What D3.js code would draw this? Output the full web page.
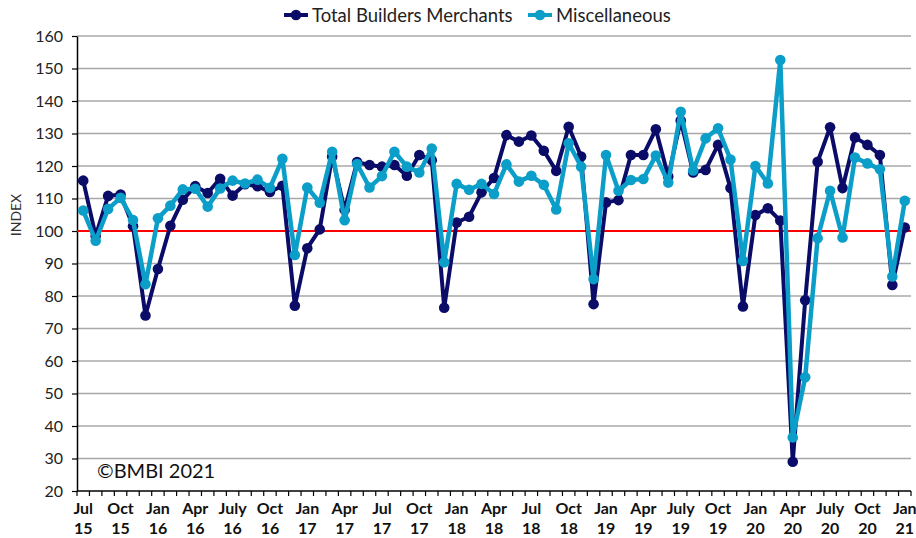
<!DOCTYPE html>
<html>
<head>
<meta charset="utf-8">
<script src="https://cdn.jsdelivr.net/npm/d3@7"></script>
<style>
  html, body { margin: 0; padding: 0; background: #fff; }
  svg { display: block; font-family: Lato, "Open Sans", sans-serif; }
</style>
</head>
<body>
<svg id="chart" width="916" height="538"></svg>
<script>
// Monthly index, Jul 2015 – Jan 2021
const months = [
  "Jul15","Aug15","Sep15","Oct15","Nov15","Dec15",
  "Jan16","Feb16","Mar16","Apr16","May16","Jun16","Jul16","Aug16","Sep16","Oct16","Nov16","Dec16",
  "Jan17","Feb17","Mar17","Apr17","May17","Jun17","Jul17","Aug17","Sep17","Oct17","Nov17","Dec17",
  "Jan18","Feb18","Mar18","Apr18","May18","Jun18","Jul18","Aug18","Sep18","Oct18","Nov18","Dec18",
  "Jan19","Feb19","Mar19","Apr19","May19","Jun19","Jul19","Aug19","Sep19","Oct19","Nov19","Dec19",
  "Jan20","Feb20","Mar20","Apr20","May20","Jun20","Jul20","Aug20","Sep20","Oct20","Nov20","Dec20",
  "Jan21"
];

const totalBuildersMerchants = [
  115.5, 98.5, 110.8, 111.2, 101.5, 74.0,
  88.3, 101.6, 109.6, 113.8, 111.7, 116.1, 110.9, 114.4, 113.8, 112.0, 113.9, 77.0,
  94.7, 100.5, 122.9, 106.5, 121.2, 120.3, 119.8, 120.3, 117.0, 123.4, 121.8, 76.4,
  102.6, 104.4, 111.9, 116.3, 129.5, 127.5, 129.4, 124.7, 118.5, 132.1, 122.9, 77.5,
  108.8, 109.5, 123.4, 123.4, 131.3, 116.8, 134.0, 118.0, 118.8, 126.5, 113.2, 76.8,
  104.9, 107.0, 103.2, 29.0, 78.7, 121.3, 131.9, 113.2, 128.8, 126.5, 123.4, 83.4,
  101.1
];

const miscellaneous = [
  106.3, 97.0, 106.8, 110.2, 103.4, 83.6,
  103.9, 107.8, 112.8, 113.0, 107.5, 113.1, 115.5, 114.6, 115.8, 113.3, 122.2, 92.6,
  113.4, 108.7, 124.4, 103.3, 120.6, 113.4, 116.9, 124.4, 119.8, 118.0, 125.4, 90.4,
  114.5, 112.7, 114.5, 111.4, 120.5, 115.2, 117.0, 114.2, 106.6, 127.0, 119.8, 85.2,
  123.4, 112.4, 115.7, 116.0, 123.2, 114.9, 136.7, 118.6, 128.5, 131.6, 122.0, 90.8,
  120.0, 114.6, 152.6, 36.5, 55.0, 97.8, 112.4, 98.0, 122.6, 120.8, 119.0, 86.0,
  109.3
];

// Quarterly axis labels: [month key, line 1, line 2]
const tickLabels = [
  ["Jul15","Jul","15"],["Oct15","Oct","15"],["Jan16","Jan","16"],["Apr16","Apr","16"],
  ["Jul16","July","16"],["Oct16","Oct","16"],["Jan17","Jan","17"],["Apr17","Apr","17"],
  ["Jul17","Jul","17"],["Oct17","Oct","17"],["Jan18","Jan","18"],["Apr18","Apr","18"],
  ["Jul18","Jul","18"],["Oct18","Oct","18"],["Jan19","Jan","19"],["Apr19","Apr","19"],
  ["Jul19","July","19"],["Oct19","Oct","19"],["Jan20","Jan","20"],["Apr20","Apr","20"],
  ["Jul20","July","20"],["Oct20","Oct","20"],["Jan21","Jan","21"]
];

const yTicks = d3.range(20, 161, 10);
const baseline = 100;

const seriesNames = ["Total Builders Merchants", "Miscellaneous"];
const seriesColors = ["#0b0b68", "#0b9ec8"];

const svg = d3.select("#chart");
const plotLeft = 77, plotRight = 911, plotTop = 36, plotBottom = 491;

const x = d3.scaleBand().domain(months).range([plotLeft, plotRight]).padding(0);
const xc = m => x(m) + x.bandwidth() / 2;
const y = d3.scaleLinear().domain([20, 160]).range([plotBottom, plotTop]);

// Horizontal gridlines
svg.append("g")
  .selectAll("line")
  .data(yTicks.filter(v => v > 20))
  .join("line")
  .attr("x1", plotLeft).attr("x2", plotRight)
  .attr("y1", d => y(d)).attr("y2", d => y(d))
  .attr("stroke", "#a8a8a8").attr("stroke-width", 1.3);

// Y axis
const yAxis = svg.append("g")
  .attr("transform", `translate(${plotLeft},0)`)
  .call(d3.axisLeft(y).tickValues(yTicks).tickSize(5).tickPadding(9).tickSizeOuter(0));
yAxis.select(".domain").attr("stroke", "#000").attr("stroke-width", 1.5);
yAxis.selectAll(".tick line").attr("stroke", "#000").attr("stroke-width", 1.2);
yAxis.selectAll(".tick text")
  .attr("font-family", "Lato, sans-serif").attr("font-size", 16).attr("fill", "#222");

// X axis with monthly tick marks at band edges
const xAxisG = svg.append("g").attr("transform", `translate(0,${plotBottom})`);
xAxisG.append("line")
  .attr("x1", plotLeft).attr("x2", plotRight).attr("y1", 0).attr("y2", 0)
  .attr("stroke", "#000").attr("stroke-width", 1.5);
xAxisG.selectAll("line.mtick")
  .data(months.concat(["__end"]))
  .join("line")
  .attr("class", "mtick")
  .attr("x1", (d, i) => plotLeft + i * x.step())
  .attr("x2", (d, i) => plotLeft + i * x.step())
  .attr("y1", 0).attr("y2", 5)
  .attr("stroke", "#000").attr("stroke-width", 1.2);

const lbl = xAxisG.selectAll("g.lbl")
  .data(tickLabels)
  .join("g")
  .attr("class", "lbl")
  .attr("transform", d => `translate(${xc(d[0])},0)`);
lbl.append("text").attr("y", 23).text(d => d[1]);
lbl.append("text").attr("y", 43).text(d => d[2]);
lbl.selectAll("text")
  .attr("text-anchor", "middle")
  .attr("font-family", "Lato, sans-serif")
  .attr("font-weight", "bold").attr("font-size", 16).attr("fill", "#111");

// Y axis title
svg.append("text")
  .attr("transform", `translate(21,215) rotate(-90)`)
  .attr("text-anchor", "middle")
  .attr("font-family", "Lato, sans-serif")
  .attr("font-size", 14).attr("fill", "#333")
  .text("INDEX");

// Reference line at 100
svg.append("line")
  .attr("x1", plotLeft).attr("x2", plotRight)
  .attr("y1", y(baseline)).attr("y2", y(baseline))
  .attr("stroke", "#ff0000").attr("stroke-width", 2.2);

// Series lines with markers
const seriesData = [totalBuildersMerchants, miscellaneous];
const line = d3.line().x((d, i) => xc(months[i])).y(d => y(d));
seriesData.forEach((vals, s) => {
  const g = svg.append("g");
  g.append("path")
    .datum(vals)
    .attr("d", line)
    .attr("fill", "none")
    .attr("stroke", seriesColors[s])
    .attr("stroke-width", s === 0 ? 4 : 4.5)
    .attr("stroke-linejoin", "round");
  g.selectAll("circle")
    .data(vals)
    .join("circle")
    .attr("cx", (d, i) => xc(months[i]))
    .attr("cy", d => y(d))
    .attr("r", 5.3)
    .attr("fill", seriesColors[s]);
});

// Copyright note
svg.append("text")
  .attr("x", 97).attr("y", 478)
  .attr("font-family", "Lato, sans-serif")
  .attr("font-size", 20).attr("fill", "#111")
  .text("\u00A9BMBI 2021");

// Legend
const legendItems = [
  { name: seriesNames[0], color: seriesColors[0], x: 284 },
  { name: seriesNames[1], color: seriesColors[1], x: 528 }
];
const lg = svg.append("g").selectAll("g").data(legendItems).join("g")
  .attr("transform", d => `translate(${d.x},15)`);
lg.append("line").attr("x1", 0).attr("x2", 24).attr("y1", 0).attr("y2", 0)
  .attr("stroke", d => d.color).attr("stroke-width", 4);
lg.append("circle").attr("cx", 12).attr("cy", 0).attr("r", 5.3).attr("fill", d => d.color);
lg.append("text").attr("x", 28).attr("y", 6.5)
  .attr("font-family", "Lato, sans-serif")
  .attr("font-size", 18.5).attr("fill", "#222")
  .text(d => d.name);
</script>
</body>
</html>
